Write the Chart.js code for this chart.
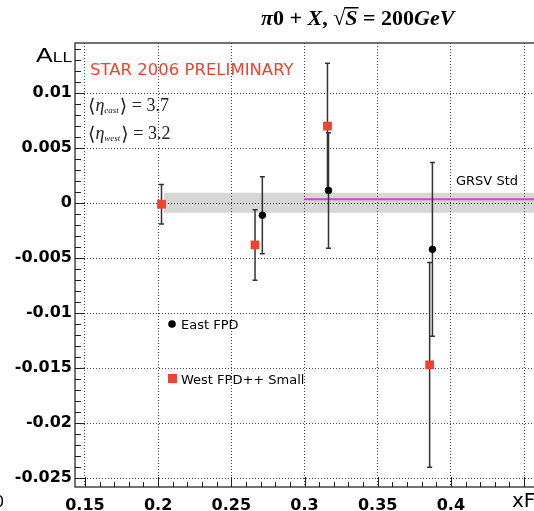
<!DOCTYPE html>
<html>
<head>
<meta charset="utf-8">
<script src="https://cdn.jsdelivr.net/npm/chart.js@4.4.0/dist/chart.umd.min.js"></script>
<style>
  html, body { margin: 0; padding: 0; background: #fff; overflow: hidden; }
  canvas { display: block; }
</style>
</head>
<body>
<canvas id="myChart" width="534" height="511"></canvas>
<script>
// East FPD (black dots)
const eastX = [0.2712, 0.3164, 0.3874];
const eastY = [-0.0011, 0.00115, -0.0042];
const eastErr = [0.0035, 0.00525, 0.0079];

// West FPD++ Small (red squares)
const westX = [0.2023, 0.3157, 0.2662, 0.3855];
const westY = [-0.0001, 0.0070, -0.0038, -0.0147];
const westErr = [0.0018, 0.0057, 0.0032, 0.0093];

// GRSV Std curve and its band
const grsvX = [0.3, 0.47];
const grsvY = [0.00034, 0.00034];
const bandX = [0.204, 0.47];
const bandHi = [0.00094, 0.00094];
const bandLo = -0.00088;

// axes
const xTicks = [0.15, 0.2, 0.25, 0.3, 0.35, 0.4, 0.45];
const xTickLabels = ['0.15', '0.2', '0.25', '0.3', '0.35', '0.4', ''];
const yTicks = [-0.025, -0.02, -0.015, -0.01, -0.005, 0, 0.005, 0.01];
const yTickLabels = ['-0.025', '-0.02', '-0.015', '-0.01', '-0.005', '0', '0.005', '0.01'];

const RED = '#ef4330';

function toPoints(xs, ys) {
    return xs.map((x, i) => ({ x: x, y: ys[i] }));
}

// text stretched sideways, the reference looks a bit wide
function wideText(ctx, s, x, y, font, sx) {
    ctx.save();
    ctx.font = font;
    ctx.translate(x, y);
    ctx.scale(sx, 1);
    ctx.fillText(s, 0, 0);
    const w = ctx.measureText(s).width * sx;
    ctx.restore();
    return w;
}

const overlay = {
    id: 'overlay',
    beforeDatasetDraw(chart, args) {
        const ds = chart.data.datasets[args.index];
        if (!ds.errors) return;
        const xs = chart.scales.x, ys = chart.scales.y;
        const ctx = chart.ctx;
        ctx.save();
        ctx.strokeStyle = '#333';
        ctx.lineWidth = 1.5;
        ds.data.forEach((p, i) => {
            const px = xs.getPixelForValue(p.x);
            const top = ys.getPixelForValue(p.y + ds.errors[i]);
            const bot = ys.getPixelForValue(p.y - ds.errors[i]);
            ctx.beginPath();
            ctx.moveTo(px, top); ctx.lineTo(px, bot);
            ctx.moveTo(px - 2.5, top); ctx.lineTo(px + 2.5, top);
            ctx.moveTo(px - 2.5, bot); ctx.lineTo(px + 2.5, bot);
            ctx.stroke();
        });
        ctx.restore();
    },
    afterDraw(chart) {
        const ctx = chart.ctx;
        const a = chart.chartArea;
        const xs = chart.scales.x, ys = chart.scales.y;
        ctx.save();

        // frame (right side is cut off in the reference)
        ctx.strokeStyle = '#444';
        ctx.lineWidth = 1.5;
        ctx.beginPath();
        ctx.moveTo(chart.width + 2, a.top);
        ctx.lineTo(a.left, a.top);
        ctx.lineTo(a.left, a.bottom);
        ctx.lineTo(chart.width + 2, a.bottom);
        ctx.stroke();

        // inner ticks
        ctx.lineWidth = 1;
        ctx.strokeStyle = '#222';
        ctx.beginPath();
        for (let k = -25; k <= 14; k++) {
            const y = Math.round(ys.getPixelForValue(k / 1000)) + 0.5;
            const len = k % 5 === 0 ? 10 : 6;
            ctx.moveTo(a.left, y); ctx.lineTo(a.left + len, y);
        }
        for (let k = 15; k <= 45; k++) {
            const x = Math.round(xs.getPixelForValue(k / 100)) + 0.5;
            const len = k % 5 === 0 ? 10 : 5;
            ctx.moveTo(x, a.bottom); ctx.lineTo(x, a.bottom - len);
        }
        ctx.stroke();

        // title
        const serif = '22px "Liberation Serif"';
        const parts = [
            ['π', 'bold italic ' + serif],
            ['0 + ', 'bold ' + serif],
            ['X', 'bold italic ' + serif],
            [', √', 'bold ' + serif],
            ['S', 'bold italic ' + serif],
            [' = 200', 'bold ' + serif],
            ['GeV', 'bold italic ' + serif]
        ];
        let tx = 261;
        ctx.fillStyle = '#000';
        ctx.textBaseline = 'alphabetic';
        parts.forEach(([s, f]) => {
            ctx.font = f;
            ctx.fillText(s, tx, 25);
            const w = ctx.measureText(s).width;
            if (s === 'S') {
                ctx.fillRect(tx - 1, 7, w + 2, 1.5);
            }
            tx += w;
        });

        // axis titles
        const aw = wideText(ctx, 'A', 36, 62, '20px "Liberation Sans"', 1.25);
        wideText(ctx, 'LL', 36 + aw, 62, '14px "Liberation Sans"', 1.25);
        ctx.font = '20px "DejaVu Sans"';
        ctx.fillText('xF', 512, 507);
        ctx.font = '16px "DejaVu Sans"';
        ctx.fillText('0', -6, 507);

        // labels inside the plot
        ctx.fillStyle = RED;
        ctx.font = '16.5px "DejaVu Sans"';
        ctx.fillText('STAR 2006 PRELIMINARY', 90, 75);

        ctx.fillStyle = '#222';
        const etaLine = (sub, val, y) => {
            let x = 88;
            ctx.font = '19px "DejaVu Serif"';
            ctx.fillText('⟨', x, y + 1); x += ctx.measureText('⟨').width;
            ctx.font = 'italic 18px "Liberation Serif"';
            ctx.fillText('η', x, y); x += ctx.measureText('η').width;
            ctx.font = 'italic 9px "Liberation Serif"';
            ctx.fillText(sub, x, y + 2); x += ctx.measureText(sub).width + 1;
            ctx.font = '19px "DejaVu Serif"';
            ctx.fillText('⟩', x, y + 1); x += ctx.measureText('⟩').width;
            ctx.font = '18px "Liberation Serif"';
            ctx.fillText(' = ' + val, x, y);
        };
        etaLine('east', '3.7', 111);
        etaLine('west', '3.2', 139);

        ctx.fillStyle = '#000';
        ctx.font = '13px "DejaVu Sans"';
        ctx.fillText('GRSV Std', 456, 185);

        // legend
        ctx.beginPath();
        ctx.arc(172, 324, 3.8, 0, Math.PI * 2);
        ctx.fill();
        ctx.fillText('East FPD', 181, 329);
        ctx.fillStyle = RED;
        ctx.fillRect(168, 374, 9, 9);
        ctx.fillStyle = '#000';
        ctx.fillText('West FPD++ Small', 181, 384);

        ctx.restore();
    }
};

Chart.defaults.font.family = '"DejaVu Sans"';
Chart.defaults.color = '#000';

const ctx = document.getElementById('myChart');

new Chart(ctx, {
    type: 'scatter',
    data: {
        datasets: [
            {
                label: 'East FPD',
                data: toPoints(eastX, eastY),
                errors: eastErr,
                pointStyle: 'circle',
                pointRadius: 3.3,
                pointHoverRadius: 3.3,
                backgroundColor: '#000',
                borderColor: '#000',
                borderWidth: 1,
                order: 0
            },
            {
                label: 'West FPD++ Small',
                data: toPoints(westX, westY),
                errors: westErr,
                pointStyle: 'rect',
                pointRadius: 6.2,
                pointHoverRadius: 6.2,
                backgroundColor: RED,
                borderColor: RED,
                borderWidth: 0,
                order: 1
            },
            {
                label: 'GRSV Std',
                type: 'line',
                data: toPoints(grsvX, grsvY),
                borderColor: '#cc44d0',
                borderWidth: 2,
                pointRadius: 0,
                fill: false,
                order: 2
            },
            {
                label: 'band',
                type: 'line',
                data: toPoints(bandX, bandHi),
                borderWidth: 0,
                borderColor: 'rgba(0,0,0,0)',
                backgroundColor: '#d6d6d6',
                pointRadius: 0,
                fill: { value: bandLo },
                order: 3
            }
        ]
    },
    options: {
        responsive: false,
        animation: false,
        devicePixelRatio: 1,
        layout: { autoPadding: false, padding: { top: 43, right: 0, left: 0, bottom: 0 } },
        plugins: {
            legend: { display: false },
            tooltip: { enabled: false },
            title: { display: false },
            // band goes under the grid lines
            filler: { drawTime: 'beforeDraw' }
        },
        scales: {
            x: {
                type: 'linear',
                min: 0.1432,
                max: 0.4568,
                afterBuildTicks: s => { s.ticks = xTicks.map(v => ({ value: v })); },
                afterFit: s => { s.height = 24; },
                grid: { color: '#444', lineWidth: 1, drawTicks: false },
                border: { display: false, dash: [1, 2] },
                ticks: {
                    padding: 9,
                    maxRotation: 0,
                    autoSkip: false,
                    font: { size: 16, weight: 'bold' },
                    callback: (v, i) => xTickLabels[i]
                }
            },
            y: {
                type: 'linear',
                min: -0.0258,
                max: 0.01455,
                afterBuildTicks: s => { s.ticks = yTicks.map(v => ({ value: v })); },
                afterFit: s => { s.width = 75; },
                grid: { color: '#444', lineWidth: 1, drawTicks: false },
                border: { display: false, dash: [1, 2] },
                ticks: {
                    padding: 3,
                    autoSkip: false,
                    font: { size: 16, weight: 'bold' },
                    callback: (v, i) => yTickLabels[i]
                }
            }
        }
    },
    plugins: [overlay]
});
</script>
</body>
</html>
